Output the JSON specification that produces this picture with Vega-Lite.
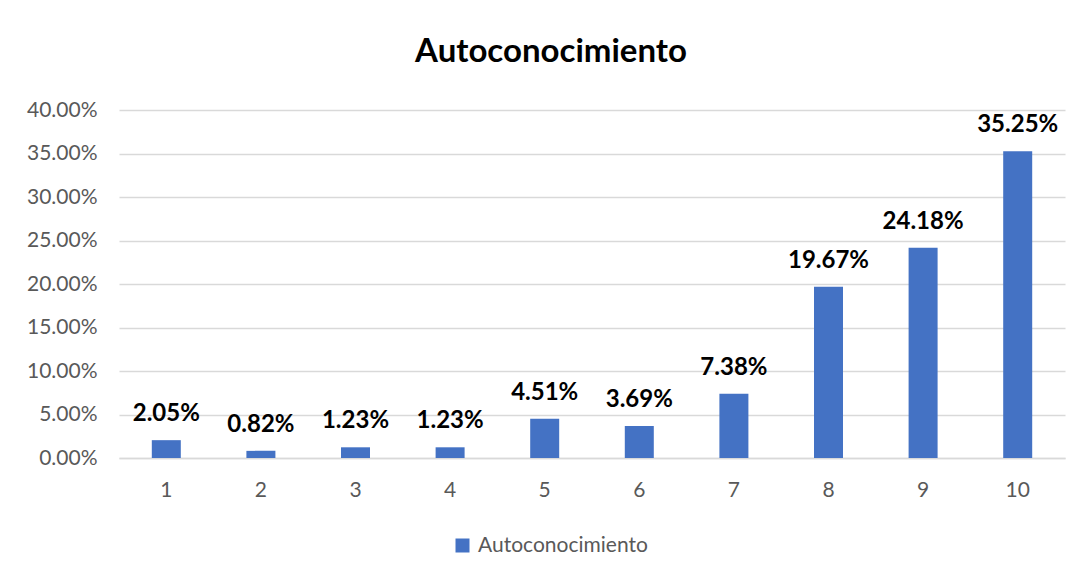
{
  "$schema": "https://vega.github.io/schema/vega-lite/v6.json",
  "autosize": "none",
  "width": 946,
  "height": 348,
  "padding": {"left": 119, "top": 110, "right": 16, "bottom": 115},
  "background": "white",
  "config": {"view": {"stroke": null}},
  "title": {
    "text": "Autoconocimiento",
    "font": "Lato",
    "fontSize": 33,
    "fontWeight": "bold",
    "color": "#000000",
    "anchor": "middle",
    "dx": -41,
    "offset": 30
  },
  "data": {
    "values": [
      {"k": "1", "v": 0.0205},
      {"k": "2", "v": 0.0082},
      {"k": "3", "v": 0.0123},
      {"k": "4", "v": 0.0123},
      {"k": "5", "v": 0.0451},
      {"k": "6", "v": 0.0369},
      {"k": "7", "v": 0.0738},
      {"k": "8", "v": 0.1967},
      {"k": "9", "v": 0.2418},
      {"k": "10", "v": 0.3525}
    ]
  },
  "encoding": {
    "x": {
      "field": "k",
      "type": "ordinal",
      "sort": null,
      "scale": {"paddingInner": 0, "paddingOuter": 0},
      "axis": {
        "title": null,
        "labelAngle": 0,
        "labelFont": "Lato",
        "labelFontSize": 21,
        "labelColor": "#595959",
        "labelPadding": 21,
        "ticks": false,
        "domain": true,
        "domainColor": "#d9d9d9",
        "domainWidth": 1.5
      }
    },
    "y": {
      "field": "v",
      "type": "quantitative",
      "scale": {"domain": [0, 0.4]},
      "axis": {
        "title": null,
        "format": ".2%",
        "values": [0, 0.05, 0.1, 0.15, 0.2, 0.25, 0.3, 0.35, 0.4],
        "labelFont": "Lato",
        "labelFontSize": 21,
        "labelColor": "#595959",
        "labelPadding": 22,
        "ticks": false,
        "domain": false,
        "grid": true,
        "gridColor": "#d9d9d9",
        "gridWidth": 1.5
      }
    }
  },
  "layer": [
    {
      "mark": {"type": "bar", "width": 29, "color": "#4472C4"},
      "encoding": {
        "color": {
          "datum": "Autoconocimiento",
          "type": "nominal",
          "scale": {"range": ["#4472C4"]},
          "legend": {
            "title": null,
            "orient": "none",
            "legendX": 333,
            "legendY": 425,
            "symbolType": "square",
            "symbolSize": 196,
            "symbolStrokeWidth": 0,
            "labelFont": "Lato",
            "labelFontSize": 21,
            "labelColor": "#595959",
            "labelOffset": 5,
            "labelLimit": 400
          }
        }
      }
    },
    {
      "mark": {
        "type": "text",
        "font": "Lato",
        "fontSize": 24,
        "fontWeight": "bold",
        "color": "#000000",
        "baseline": "alphabetic",
        "dy": -19
      },
      "encoding": {
        "text": {"field": "v", "type": "quantitative", "format": ".2%"}
      }
    }
  ]
}
